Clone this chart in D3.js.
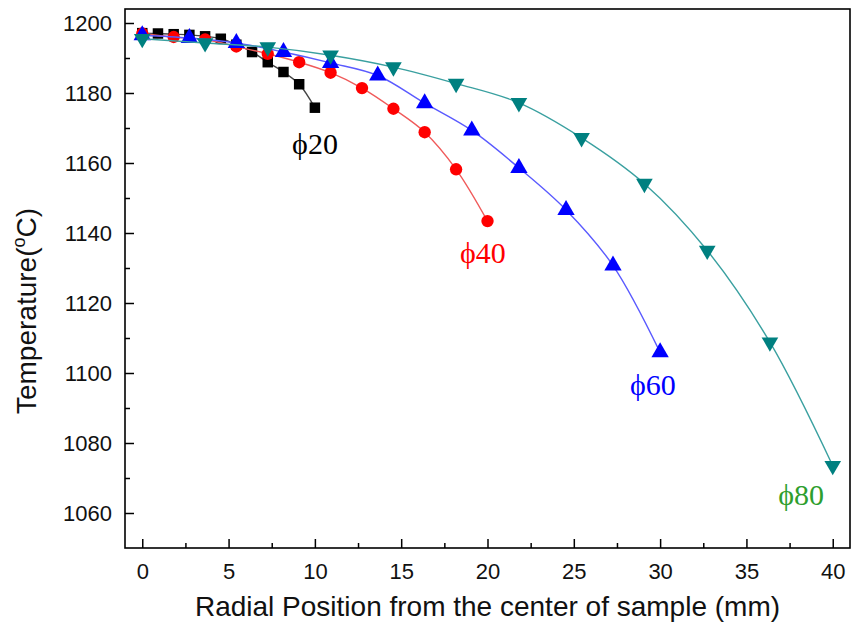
<!DOCTYPE html>
<html>
<head>
<meta charset="utf-8">
<script src="https://cdn.jsdelivr.net/npm/d3@7/dist/d3.min.js"></script>
<style>
  html, body { margin: 0; padding: 0; background: #fff; }
  svg { display: block; }
</style>
</head>
<body>
<svg id="chart" width="853" height="628"></svg>
<script>
// ---- data ----
const seriesNames = ["ϕ20", "ϕ40", "ϕ60", "ϕ80"];
const radius20 = [0, 0.91, 1.82, 2.73, 3.64, 4.55, 5.45, 6.36, 7.27, 8.18, 9.09, 10];
const temp20   = [1197.1, 1197.0, 1196.8, 1196.6, 1196.2, 1195.5, 1193.8, 1191.7, 1188.8, 1186.0, 1182.5, 1175.8];
const radius40 = [0, 1.82, 3.64, 5.45, 7.27, 9.09, 10.91, 12.73, 14.55, 16.36, 18.18, 20];
const temp40   = [1197.0, 1196.0, 1195.3, 1193.3, 1191.2, 1188.8, 1185.8, 1181.4, 1175.5, 1168.8, 1158.2, 1143.4];
const radius60 = [0, 2.73, 5.45, 8.18, 10.91, 13.64, 16.36, 19.09, 21.82, 24.55, 27.27, 30];
const temp60   = [1196.5, 1195.7, 1194.3, 1191.7, 1188.6, 1185.0, 1177.1, 1169.3, 1158.6, 1146.6, 1130.7, 1105.9];
const radius80 = [0, 3.64, 7.27, 10.91, 14.55, 18.18, 21.82, 25.45, 29.09, 32.73, 36.36, 40];
const temp80   = [1195.5, 1194.3, 1193.1, 1190.8, 1187.4, 1182.7, 1177.2, 1167.2, 1154.1, 1135.0, 1108.8, 1073.5];
const xTicks = [0, 5, 10, 15, 20, 25, 30, 35, 40];
const yTicks = [1060, 1080, 1100, 1120, 1140, 1160, 1180, 1200];
const labelPos = [[8.68, 1162.6], [18.41, 1131.4], [28.26, 1093.7], [36.84, 1062.3]]; // data coords of series labels (left, baseline)

// ---- layout / style ----
const svg = d3.select("#chart");
const L = 125, R = 850, T = 9, B = 548;
const x = d3.scaleLinear().domain([-1, 41]).range([L, R]);
const y = d3.scaleLinear().domain([1050, 1204]).range([B, T]);

const markerColors = ["#000000", "#ff0000", "#0000ff", "#008080"];
const lineColors   = ["#444444", "#f05a5a", "#5a5aff", "#3aa0a0"];
const labelColors  = ["#000000", "#ff0000", "#0000ff", "#2e9e2e"];
const symbols = [d3.symbolSquare, d3.symbolCircle, d3.symbolTriangle, d3.symbolTriangle];
const symSizes = [110, 120, 130, 120];
const rotations = [0, 0, 0, 180];

const series = [
  radius20.map((r, i) => [r, temp20[i]]),
  radius40.map((r, i) => [r, temp40[i]]),
  radius60.map((r, i) => [r, temp60[i]]),
  radius80.map((r, i) => [r, temp80[i]])
];

// axes: major & minor ticks pointing inward
const xMinor = d3.range(2.5, 40, 5);
const yMinor = d3.range(1070, 1200, 20);

svg.append("g").attr("transform", `translate(0,${B})`)
  .call(d3.axisBottom(x).tickValues(xTicks).tickSizeInner(-9).tickSizeOuter(0).tickPadding(15).tickFormat(d3.format("d")));
svg.append("g").attr("transform", `translate(0,${B})`)
  .call(d3.axisBottom(x).tickValues(xMinor).tickSizeInner(-5).tickSizeOuter(0).tickFormat(""));
svg.append("g").attr("transform", `translate(${L},0)`)
  .call(d3.axisLeft(y).tickValues(yTicks).tickSizeInner(-9).tickSizeOuter(0).tickPadding(13).tickFormat(d3.format("d")));
svg.append("g").attr("transform", `translate(${L},0)`)
  .call(d3.axisLeft(y).tickValues(yMinor).tickSizeInner(-5).tickSizeOuter(0).tickFormat(""));

svg.selectAll(".domain").remove();
svg.selectAll(".tick line").attr("stroke", "#000").attr("stroke-width", 1.5);
svg.selectAll(".tick text")
  .attr("font-family", "'Liberation Sans', Arial, sans-serif")
  .attr("font-size", 22).attr("fill", "#111");

// frame
svg.append("rect").attr("x", L).attr("y", T).attr("width", R - L).attr("height", B - T)
  .attr("fill", "none").attr("stroke", "#000").attr("stroke-width", 1.6);

// series
const line = d3.line().x(d => x(d[0])).y(d => y(d[1])).curve(d3.curveCatmullRom.alpha(0.5));
series.forEach((pts, s) => {
  const g = svg.append("g");
  g.append("path").attr("d", line(pts)).attr("fill", "none")
    .attr("stroke", lineColors[s]).attr("stroke-width", 1.4);
  const sym = d3.symbol().type(symbols[s]).size(symSizes[s]);
  g.selectAll("path.m").data(pts).join("path").attr("class", "m")
    .attr("d", sym)
    .attr("transform", d => `translate(${x(d[0])},${y(d[1])}) rotate(${rotations[s]})`)
    .attr("fill", markerColors[s]);
});

// series labels
seriesNames.forEach((n, s) => {
  svg.append("text").attr("x", x(labelPos[s][0])).attr("y", y(labelPos[s][1]))
    .attr("font-family", "'Liberation Serif', 'Times New Roman', serif")
    .attr("font-size", 30).attr("fill", labelColors[s]).text(n);
});

// axis titles
svg.append("text").attr("x", (L + R) / 2).attr("y", 616).attr("text-anchor", "middle")
  .attr("font-family", "'Liberation Sans', Arial, sans-serif").attr("font-size", 28).attr("fill", "#111")
  .text("Radial Position from the center of sample (mm)");

const yt = svg.append("text").attr("transform", "translate(36,311) rotate(-90)").attr("text-anchor", "middle")
  .attr("font-family", "'Liberation Sans', Arial, sans-serif").attr("font-size", 28).attr("fill", "#111");
yt.append("tspan").text("Temperature(");
yt.append("tspan").attr("font-size", 18).attr("dy", -11).text("o");
yt.append("tspan").attr("dy", 11).text("C)");
</script>
</body>
</html>
